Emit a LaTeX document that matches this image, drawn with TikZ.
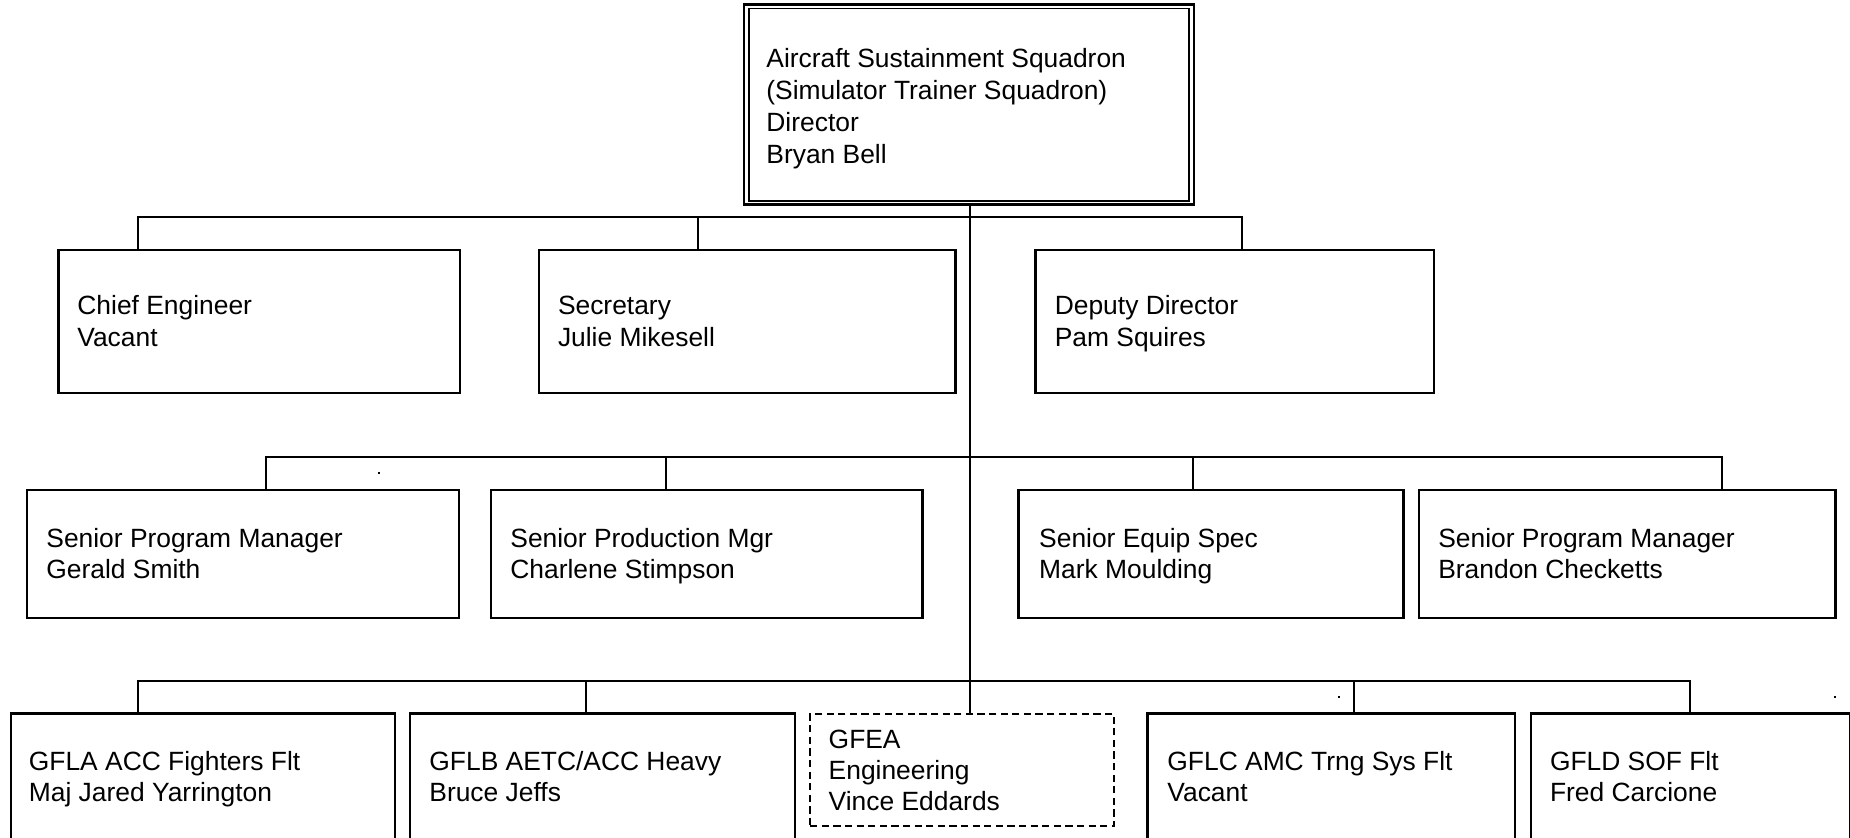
\documentclass[tikz,border=0pt]{standalone}
\usepackage{fontspec}
\setmainfont{Liberation Sans}
\newcommand{\twol}[2]{\vtop{\hbox{#1}\hbox{#2}}}
\newcommand{\threel}[3]{\vtop{\hbox{#1}\hbox{#2}\hbox{#3}}}
\newcommand{\fourl}[4]{\vtop{\hbox{#1}\hbox{#2}\hbox{#3}\hbox{#4}}}
\begin{document}
\begin{tikzpicture}[x=0.5pt,y=-0.5pt,
  box/.style={draw, line width=1.1pt, rectangle, inner sep=0pt, anchor=north west},
  dashbox/.style={box, line width=0.85pt, dash pattern=on 3.6pt off 2.2pt},
  txt/.style={anchor=base west, inner sep=0pt, font=\fontsize{13.2}{15.6}\selectfont},
  conn/.style={line width=1pt},
  trunkline/.style={line width=1.1pt}]

\useasboundingbox (0,0) rectangle (1850,838);
\clip (0,0) rectangle (1850,838);

% top box (double border)
\node[box, line width=1.25pt, minimum width=225pt, minimum height=100pt] (dir) at (742.5,3.5) {};
\draw[line width=0.7pt] ([xshift=3.25pt,yshift=-2.5pt]dir.north west) rectangle ([xshift=-3pt,yshift=2.5pt]dir.south east);
\node[txt, font=\fontsize{13.2}{16}\selectfont] (tdir) at (766,68) {\fourl{Aircraft Sustainment Squadron}{(Simulator Trainer Squadron)}{Director}{Bryan Bell}};

% row 1
\node[box, minimum width=200.7pt, minimum height=71.5pt] (chief) at (57.3,249) {};
\node[box, minimum width=208.35pt, minimum height=71.5pt] (sec) at (537.7,249) {};
\node[box, minimum width=199.35pt, minimum height=71.5pt] (dep) at (1034.4,249) {};
\node[txt] (tchief) at (77,315) {\twol{Chief Engineer}{Vacant}};
\node[txt] (tsec) at (557.6,315) {\twol{Secretary}{Julie Mikesell}};
\node[txt] (tdep) at (1054.4,315) {\twol{Deputy Director}{Pam Squires}};

% row 2
\node[box, minimum width=216.1pt, minimum height=63.85pt] (ger) at (26,489) {};
\node[box, minimum width=215.6pt, minimum height=63.85pt] (cha) at (490.2,489) {};
\node[box, minimum width=192.55pt, minimum height=63.85pt] (mar) at (1017.3,489) {};
\node[box, minimum width=208.15pt, minimum height=63.85pt] (bra) at (1418,489) {};
\node[txt] (tger) at (46,547) {\twol{Senior Program Manager}{Gerald Smith}};
\node[txt] (tcha) at (510,547) {\twol{Senior Production Mgr}{Charlene Stimpson}};
\node[txt] (tmar) at (1038.8,547) {\twol{Senior Equip Spec}{Mark Moulding}};
\node[txt] (tbra) at (1437.9,547) {\twol{Senior Program Manager}{Brandon Checketts}};

% row 3
\node[box, minimum width=192.15pt, minimum height=71.5pt] (gla) at (9.9,712.3) {};
\node[box, minimum width=192.4pt, minimum height=71.5pt] (glb) at (409.2,712.3) {};
\node[dashbox, minimum width=152pt, minimum height=55.85pt] (gea) at (809.3,713.3) {};
\node[box, minimum width=183.65pt, minimum height=71.5pt] (glc) at (1146.4,712.3) {};
\node[box, minimum width=159.5pt, minimum height=71.5pt] (gld) at (1529.5,712.3) {};
\node[txt] (tgla) at (28.5,770) {\twol{GFLA ACC Fighters Flt}{Maj Jared Yarrington}};
\node[txt] (tglb) at (429,770) {\twol{GFLB AETC/ACC Heavy}{Bruce Jeffs}};
\node[txt] (tgea) at (828.3,748.5) {\threel{GFEA}{Engineering}{Vince Eddards}};
\node[txt] (tglc) at (1167,770) {\twol{GFLC AMC Trng Sys Flt}{Vacant}};
\node[txt] (tgld) at (1549.6,770) {\twol{GFLD SOF Flt}{Fred Carcione}};

% connector coordinates
\coordinate (trk) at (969.8,0);
\coordinate (d1a) at (137.6,216.7);
\coordinate (d1b) at (698.1,216.7);
\coordinate (d1c) at (1242.2,216.7);
\coordinate (d2a) at (266,456.7);
\coordinate (d2b) at (666.3,456.7);
\coordinate (d2c) at (1193.4,456.7);
\coordinate (d2d) at (1722,456.7);
\coordinate (d3a) at (138.4,680.7);
\coordinate (d3b) at (586,680.7);
\coordinate (d3c) at (1353.5,680.7);
\coordinate (d3d) at (1689.7,680.7);

% trunk
\draw[trunkline] (dir.south -| trk) -- (gea.north -| trk);

% bus 1
\draw[conn] (d1a |- chief.north) -- (d1a) -- (d1c) -- (d1c |- dep.north);
\draw[conn] (d1b) -- (d1b |- sec.north);

% bus 2
\draw[conn] (d2a |- ger.north) -- (d2a) -- (d2d) -- (d2d |- bra.north);
\draw[conn] (d2b) -- (d2b |- cha.north);
\draw[conn] (d2c) -- (d2c |- mar.north);

% bus 3
\draw[conn] (d3a |- gla.north) -- (d3a) -- (d3d) -- (d3d |- gld.north);
\draw[conn] (d3b) -- (d3b |- glb.north);
\draw[conn] (d3c) -- (d3c |- glc.north);

% small specks
\fill (378,472) rectangle (380,474);
\fill (1337.5,696) rectangle (1339.5,698);
\fill (1833.5,696) rectangle (1835.5,698);
\end{tikzpicture}
\end{document}
